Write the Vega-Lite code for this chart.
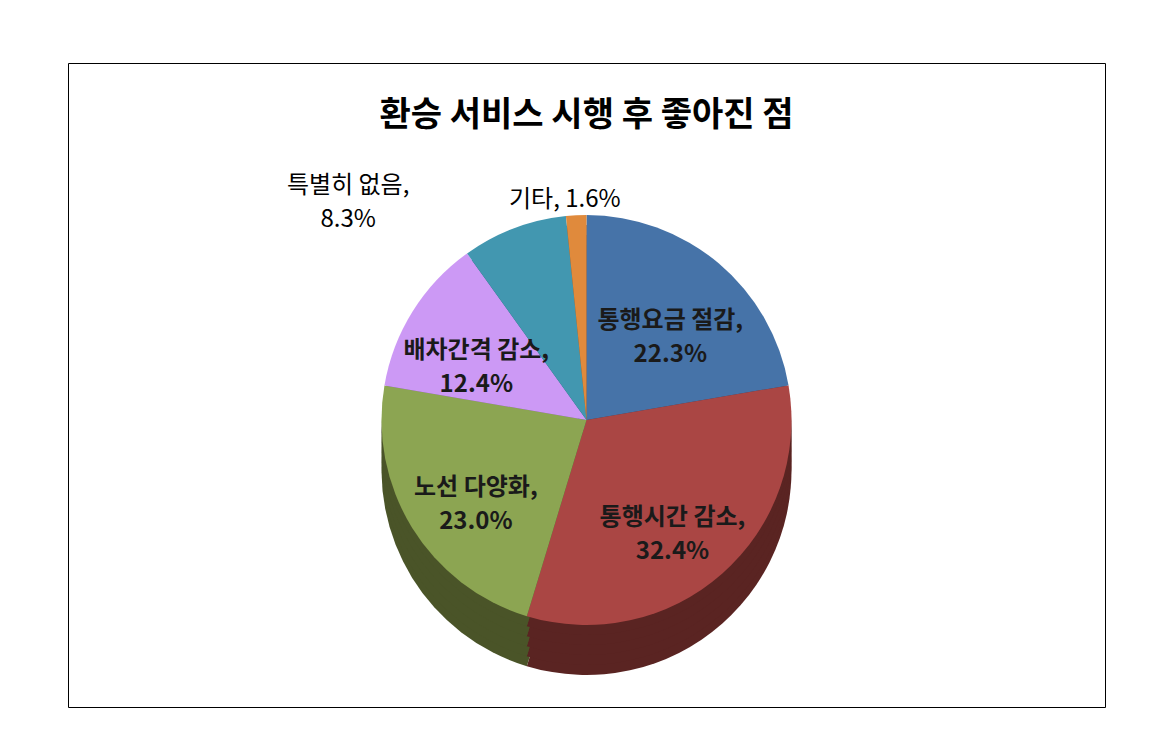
{
  "$schema": "https://vega.github.io/schema/vega-lite/v6.json",
  "autosize": {"type": "none"},
  "width": 1037,
  "height": 644,
  "padding": {"left": 68, "top": 63, "right": 69, "bottom": 25},
  "background": "white",
  "view": {"stroke": "black", "strokeWidth": 1, "fill": "white"},
  "title": {
    "text": "환승 서비스 시행 후 좋아진 점",
    "font": "Noto Sans CJK KR",
    "fontSize": 34,
    "fontWeight": "bold",
    "color": "black",
    "anchor": "middle",
    "offset": -70
  },
  "data": {
    "values": [
      {"order": 1, "category": "통행요금 절감", "value": 22.3, "label": "통행요금 절감,\n22.3%"},
      {"order": 2, "category": "통행시간 감소", "value": 32.4, "label": "통행시간 감소,\n32.4%"},
      {"order": 3, "category": "노선 다양화", "value": 23.0, "label": "노선 다양화,\n23.0%"},
      {"order": 4, "category": "배차간격 감소", "value": 12.4, "label": "배차간격 감소,\n12.4%"},
      {"order": 5, "category": "특별히 없음", "value": 8.3, "label": "특별히 없음,\n8.3%"},
      {"order": 6, "category": "기타", "value": 1.6, "label": "기타, 1.6%"}
    ]
  },
  "encoding": {
    "theta": {"field": "value", "type": "quantitative", "stack": true},
    "order": {"field": "order", "type": "quantitative"}
  },
  "layer": [
    {
      "mark": {"type": "arc", "radius": 205, "yOffset": 85},
      "encoding": {"color": {"field": "category", "type": "nominal", "legend": null,
        "scale": {"domain": ["통행요금 절감", "통행시간 감소", "노선 다양화", "배차간격 감소", "특별히 없음", "기타"], "range": ["#2B4466", "#5A2422", "#4A5428", "#7A5C94", "#285A6A", "#86532A"]}}}
    },
    {
      "mark": {"type": "arc", "radius": 205, "yOffset": 75},
      "encoding": {"color": {"field": "category", "type": "nominal", "legend": null,
        "scale": {"domain": ["통행요금 절감", "통행시간 감소", "노선 다양화", "배차간격 감소", "특별히 없음", "기타"], "range": ["#2B4466", "#5A2422", "#4A5428", "#7A5C94", "#285A6A", "#86532A"]}}}
    },
    {
      "mark": {"type": "arc", "radius": 205, "yOffset": 65},
      "encoding": {"color": {"field": "category", "type": "nominal", "legend": null,
        "scale": {"domain": ["통행요금 절감", "통행시간 감소", "노선 다양화", "배차간격 감소", "특별히 없음", "기타"], "range": ["#2B4466", "#5A2422", "#4A5428", "#7A5C94", "#285A6A", "#86532A"]}}}
    },
    {
      "mark": {"type": "arc", "radius": 205, "yOffset": 55},
      "encoding": {"color": {"field": "category", "type": "nominal", "legend": null,
        "scale": {"domain": ["통행요금 절감", "통행시간 감소", "노선 다양화", "배차간격 감소", "특별히 없음", "기타"], "range": ["#2B4466", "#5A2422", "#4A5428", "#7A5C94", "#285A6A", "#86532A"]}}}
    },
    {
      "mark": {"type": "arc", "radius": 205, "yOffset": 45},
      "encoding": {"color": {"field": "category", "type": "nominal", "legend": null,
        "scale": {"domain": ["통행요금 절감", "통행시간 감소", "노선 다양화", "배차간격 감소", "특별히 없음", "기타"], "range": ["#2B4466", "#5A2422", "#4A5428", "#7A5C94", "#285A6A", "#86532A"]}}}
    },
    {
      "mark": {"type": "arc", "radius": 205, "yOffset": 35},
      "encoding": {"color": {"field": "category", "type": "nominal", "legend": null,
        "scale": {"domain": ["통행요금 절감", "통행시간 감소", "노선 다양화", "배차간격 감소", "특별히 없음", "기타"], "range": ["#4673A8", "#AA4644", "#8CA552", "#CC99F5", "#4297B0", "#E08A3C"]}}}
    },
    {
      "mark": {"type": "text", "radius": 130, "yOffset": 35, "font": "Noto Sans CJK KR", "fontSize": 24, "fontWeight": "bold", "lineBreak": "\n", "lineHeight": 34, "color": "#1a1a1a"},
      "encoding": {"text": {"condition": {"test": "datum.order < 5", "field": "label"}, "value": ""}}
    },
    {
      "mark": {"type": "text", "radius": 232, "yOffset": 35, "dx": -10, "dy": 12, "font": "Noto Sans CJK KR", "fontSize": 24, "lineBreak": "\n", "lineHeight": 34, "color": "black"},
      "encoding": {"text": {"condition": {"test": "datum.order == 6", "field": "label"}, "value": ""}}
    },
    {
      "mark": {"type": "text", "radius": 250, "yOffset": 35, "dx": -150, "dy": 0, "font": "Noto Sans CJK KR", "fontSize": 24, "lineBreak": "\n", "lineHeight": 34, "color": "black"},
      "encoding": {"text": {"condition": {"test": "datum.order == 5", "field": "label"}, "value": ""}}
    }
  ],
  "resolve": {"scale": {"color": "independent"}}
}
